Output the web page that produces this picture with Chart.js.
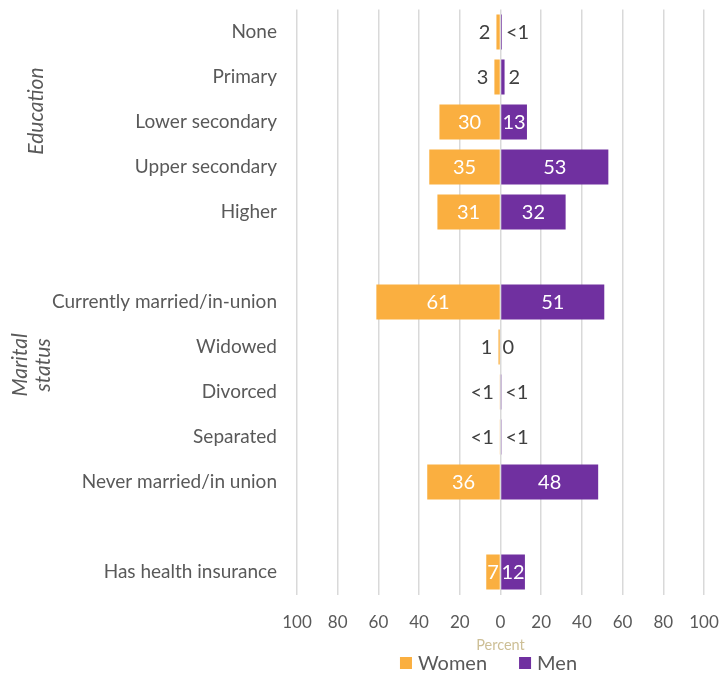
<!DOCTYPE html>
<html>
<head>
<meta charset="utf-8">
<script src="https://cdn.jsdelivr.net/npm/chart.js@4.4.1/dist/chart.umd.min.js"></script>
<style>
  html, body { margin: 0; padding: 0; background: #fff; }
</style>
</head>
<body>
<canvas id="graf" width="721" height="675"></canvas>
<script>
// rader, tomma strängar = luft mellan grupperna
const categories = ['None', 'Primary', 'Lower secondary', 'Upper secondary', 'Higher', '',
  'Currently married/in-union', 'Widowed', 'Divorced', 'Separated', 'Never married/in union', '',
  'Has health insurance'];
const womenValues = [2, 3, 30, 35, 31, null, 61, 1, 0.3, 0.3, 36, null, 7];
const menValues = [0.7, 2, 13, 53, 32, null, 51, 0, 0.2, 0.5, 48, null, 12];
const womenLabels = ['2', '3', '30', '35', '31', '', '61', '1', '<1', '<1', '36', '', '7'];
const menLabels = ['<1', '2', '13', '53', '32', '', '51', '0', '<1', '<1', '48', '', '12'];
const groupTitles = [['Education'], ['Marital', 'status']];

const FONT = 'Lato';
const GRAY = '#595959';

// siffror på staplarna
const stapelEtiketter = {
  id: 'stapelEtiketter',
  afterDatasetsDraw(chart) {
    const ctx = chart.ctx;
    ctx.save();
    ctx.font = '20px ' + FONT;
    ctx.textBaseline = 'middle';
    chart.data.datasets.forEach((ds, di) => {
      const meta = chart.getDatasetMeta(di);
      const texts = di === 0 ? womenLabels : menLabels;
      const raw = di === 0 ? womenValues : menValues;
      meta.data.forEach((bar, i) => {
        if (raw[i] == null) return;
        const { x, y, base } = bar.getProps(['x', 'y', 'base'], true);
        if (raw[i] >= 7) {
          ctx.fillStyle = '#fff';
          ctx.textAlign = 'center';
          ctx.fillText(texts[i], (x + base) / 2, y + 1);
        } else {
          ctx.fillStyle = '#404040';
          if (di === 0) {
            ctx.textAlign = 'right';
            ctx.fillText(texts[i], Math.min(x, base) - 6, y + 1);
          } else {
            ctx.textAlign = 'left';
            ctx.fillText(texts[i], Math.max(x, base) + 4, y + 1);
          }
        }
      });
    });
    ctx.restore();
  }
};

// gruppnamn på sidan, roterade
const gruppRubriker = {
  id: 'gruppRubriker',
  afterDraw(chart) {
    const ctx = chart.ctx;
    const pos = [{ x: 36, y: 111 }, { x: 32, y: 365 }];
    ctx.save();
    ctx.font = 'italic 21px ' + FONT;
    ctx.fillStyle = GRAY;
    ctx.textAlign = 'center';
    ctx.textBaseline = 'middle';
    groupTitles.forEach((lines, gi) => {
      ctx.save();
      ctx.translate(pos[gi].x, pos[gi].y);
      ctx.rotate(-Math.PI / 2);
      lines.forEach((t, li) => {
        ctx.fillText(t, 0, (li - (lines.length - 1) / 2) * 23);
      });
      ctx.restore();
    });
    ctx.restore();
  }
};

// egen förklaring längst ner
const egenLegend = {
  id: 'egenLegend',
  afterDraw(chart) {
    const ctx = chart.ctx;
    const box = 12, gap = 6, between = 32;
    ctx.save();
    ctx.font = '20px ' + FONT;
    ctx.textBaseline = 'middle';
    ctx.textAlign = 'left';
    const items = chart.data.datasets.map(ds => ({ text: ds.label, color: ds.backgroundColor, w: ctx.measureText(ds.label).width }));
    const total = items.reduce((s, it) => s + box + gap + it.w, 0) + between * (items.length - 1);
    let x = 488.5 - total / 2;
    const y = 663;
    items.forEach(it => {
      ctx.fillStyle = it.color;
      ctx.fillRect(x, y - box / 2, box, box);
      x += box + gap;
      ctx.fillStyle = GRAY;
      ctx.fillText(it.text, x, y + 1);
      x += it.w + between;
    });
    ctx.restore();
  }
};

const ctx = document.getElementById('graf').getContext('2d');
new Chart(ctx, {
  type: 'bar',
  data: {
    labels: categories,
    datasets: [{
      label: 'Women',
      data: womenValues.map(v => v == null ? null : -v),
      backgroundColor: '#FAAF40',
      barPercentage: 0.78,
      categoryPercentage: 1
    }, {
      label: 'Men',
      data: menValues,
      backgroundColor: '#7030A0',
      barPercentage: 0.78,
      categoryPercentage: 1
    }]
  },
  options: {
    indexAxis: 'y',
    responsive: false,
    animation: false,
    layout: { padding: { left: 0, right: 17, top: 9.5, bottom: 20.5 } },
    plugins: {
      tooltip: { enabled: false },
      legend: { display: false }
    },
    scales: {
      x: {
        stacked: true,
        min: -100,
        max: 100,
        ticks: {
          stepSize: 20,
          callback: v => Math.abs(v),
          font: { family: FONT, size: 17 },
          color: GRAY,
          padding: 18
        },
        grid: { color: '#d9d9d9', lineWidth: 1.5, drawTicks: false },
        border: { display: false },
        title: {
          display: true,
          text: 'Percent',
          color: '#CDBF96',
          font: { family: FONT, size: 14.5 },
          padding: { top: 0, bottom: 0 }
        },
        afterFit(scale) {
          scale.paddingLeft = 0;
          scale.paddingRight = 0;
          scale.height = 60;
        }
      },
      y: {
        stacked: true,
        grid: { display: false, drawTicks: false },
        border: { display: false },
        ticks: {
          font: { family: FONT, size: 19 },
          color: GRAY,
          padding: 20,
          autoSkip: false
        },
        afterFit(scale) {
          scale.width = 297;
          scale.paddingTop = 0;
          scale.paddingBottom = 0;
        }
      }
    }
  },
  plugins: [stapelEtiketter, gruppRubriker, egenLegend]
});
</script>
</body>
</html>
